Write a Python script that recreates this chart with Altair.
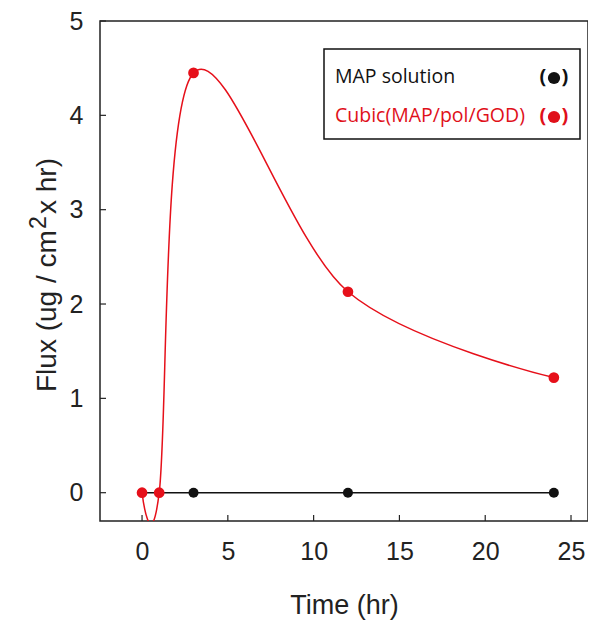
import altair as alt
import pandas as pd

# ---- data ----
times = [0, 1, 3, 12, 24]
map_flux = [0, 0, 0, 0, 0]
cubic_flux = [0, 0, 4.45, 2.13, 1.22]
x_ticks = [0, 5, 10, 15, 20, 25]
y_ticks = [0, 1, 2, 3, 4, 5]
legend_labels = ["MAP solution", "Cubic(MAP/pol/GOD)"]
legend_colors = ["#111111", "#e0101a"]
y_title_parts = ["Flux (ug / cm", "2", "x hr)"]

W, H = 488, 500
AXIS_FONT = "Liberation Sans"
LEG_FONT = "Open Sans"
RED = "#e6101a"

df_map = pd.DataFrame({"t": times, "flux": map_flux})
df_cub = pd.DataFrame({"t": times, "flux": cubic_flux})
df_xt = pd.DataFrame({"t": x_ticks})
df_yt = pd.DataFrame({"flux": y_ticks})

xscale = alt.Scale(domain=[-2.45, 25.99], nice=False, zero=False)
yscale = alt.Scale(domain=[-0.3, 5], nice=False, zero=False)

xaxis = alt.Axis(values=x_ticks, ticks=False, domain=False, grid=False,
                 labelFont=AXIS_FONT, labelFontSize=25, labelColor="#222",
                 labelPadding=18, title="Time (hr)", titleFont=AXIS_FONT,
                 titleFontSize=27, titleFontWeight="normal", titleColor="#222",
                 titleY=92, titleBaseline="alphabetic")
yaxis = alt.Axis(values=y_ticks, ticks=False, domain=False, grid=False,
                 labelFont=AXIS_FONT, labelFontSize=25, labelColor="#222",
                 labelPadding=17, title=None)

X = alt.X("t:Q", scale=xscale, axis=xaxis)
Y = alt.Y("flux:Q", scale=yscale, axis=yaxis)

map_line = alt.Chart(df_map).mark_line(color="#111", strokeWidth=1.5, clip=True).encode(x=X, y=Y)
cub_line = alt.Chart(df_cub).mark_line(color=RED, strokeWidth=1.5, interpolate="cardinal",
                                        clip=True).encode(x=X, y=Y)
map_pts = alt.Chart(df_map[df_map.t >= 3]).mark_point(filled=True, color="#111", size=100,
                                                       opacity=1).encode(x=X, y=Y)
cub_pts = alt.Chart(df_cub).mark_point(filled=True, color=RED, size=115, opacity=1).encode(x=X, y=Y)

xt = alt.Chart(df_xt).mark_rule(color="#222", strokeWidth=1.2).encode(
    x=X, y=alt.value(H), y2=alt.value(H - 6))
yt = alt.Chart(df_yt).mark_rule(color="#222", strokeWidth=1.2).encode(
    y=Y, x=alt.value(0), x2=alt.value(6))

# y-axis title with a raised "2"
yt_layers = []
for txt, xx, yy, fs in [(y_title_parts[0], -52, 371, 28),
                        (y_title_parts[1], -61, 208, 23),
                        (y_title_parts[2], -52, 193, 28)]:
    yt_layers.append(alt.Chart(pd.DataFrame({"s": [txt]})).mark_text(
        align="left", baseline="middle", angle=270, font=AXIS_FONT, fontSize=fs,
        color="#222").encode(text="s:N", x=alt.value(xx), y=alt.value(yy)))

one = pd.DataFrame({"a": [0]})
box = alt.Chart(one).mark_rect(fill="white", stroke="#111", strokeWidth=1.5).encode(
    x=alt.value(224), x2=alt.value(480), y=alt.value(28), y2=alt.value(118))

leg_layers = []
for i, (lab, col) in enumerate(zip(legend_labels, legend_colors)):
    yy = 56 + 39 * i
    d = pd.DataFrame({"label": [lab]})
    leg_layers.append(alt.Chart(d).mark_text(align="left", baseline="middle", font=LEG_FONT,
                                             fontSize=19.5, color=col).encode(
        text="label:N", x=alt.value(235), y=alt.value(yy)))
    leg_layers.append(alt.Chart(pd.DataFrame({"p": ["("]})).mark_text(
        align="center", baseline="middle", font=LEG_FONT, fontSize=20, fontWeight="bold",
        color=col).encode(text="p:N", x=alt.value(443), y=alt.value(yy)))
    leg_layers.append(alt.Chart(pd.DataFrame({"p": [")"]})).mark_text(
        align="center", baseline="middle", font=LEG_FONT, fontSize=20, fontWeight="bold",
        color=col).encode(text="p:N", x=alt.value(465), y=alt.value(yy)))
    leg_layers.append(alt.Chart(one).mark_point(filled=True, color=col, size=150, opacity=1).encode(
        x=alt.value(454), y=alt.value(yy + 1)))

chart = alt.layer(map_line, cub_line, map_pts, cub_pts, xt, yt, *yt_layers, box,
                  *leg_layers).properties(
    width=W, height=H,
    autosize=alt.AutoSizeParams(type="none"),
    padding={"left": 92, "top": 13, "right": 0, "bottom": 103},
    background="white",
).configure_view(stroke="#222", strokeWidth=1.5)

chart.save("out.html", embed_options={"renderer": "svg", "actions": False})
